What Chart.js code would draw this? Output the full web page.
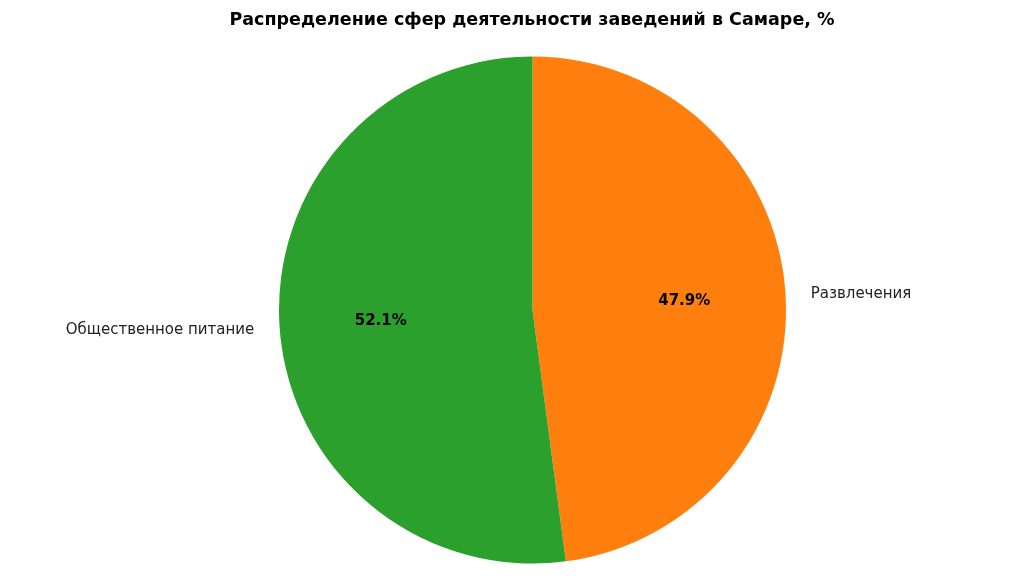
<!DOCTYPE html>
<html>
<head>
    <meta charset="utf-8">
    <title>Распределение сфер деятельности</title>
    <script src="https://cdn.jsdelivr.net/npm/chart.js@4"></script>
    <style>
        html, body { margin: 0; padding: 0; background: #fff; }
        canvas { display: block; }
    </style>
</head>
<body>
    <canvas id="pieChart" width="1024" height="587"></canvas>

    <script>
        // data
        const categories = ['Развлечения', 'Общественное питание'];
        const shares = [47.9, 52.1];
        const colors = ['#ff7f0e', '#2ca02c'];
        const chartTitle = 'Распределение сфер деятельности заведений в Самаре, %';

        const fontFamily = '"DejaVu Sans", sans-serif';

        // slice names outside, percentages inside (like matplotlib autopct)
        const sliceLabels = {
            id: 'sliceLabels',
            afterDatasetsDraw(chart) {
                const ctx = chart.ctx;
                const meta = chart.getDatasetMeta(0);
                ctx.save();
                meta.data.forEach((arc, i) => {
                    const p = arc.getProps(['x', 'y', 'startAngle', 'endAngle', 'outerRadius'], true);
                    const mid = (p.startAngle + p.endAngle) / 2;
                    const cx = Math.cos(mid), cy = Math.sin(mid);

                    ctx.fillStyle = '#000';
                    ctx.font = 'bold 15px ' + fontFamily;
                    ctx.textAlign = 'center';
                    ctx.textBaseline = 'middle';
                    ctx.fillText(shares[i].toFixed(1) + '%', p.x + cx * p.outerRadius * 0.6, p.y + cy * p.outerRadius * 0.6 + 1);

                    ctx.fillStyle = '#222';
                    ctx.font = '15px ' + fontFamily;
                    ctx.textAlign = cx >= 0 ? 'left' : 'right';
                    ctx.fillText(categories[i], p.x + cx * p.outerRadius * 1.1, p.y + cy * p.outerRadius * 1.1 + 2);
                });

                ctx.fillStyle = '#000';
                ctx.font = 'bold 17.5px ' + fontFamily;
                ctx.textAlign = 'center';
                ctx.textBaseline = 'middle';
                ctx.fillText(chartTitle, 532, 20);
                ctx.restore();
            }
        };

        new Chart(document.getElementById('pieChart').getContext('2d'), {
            type: 'pie',
            data: {
                labels: categories,
                datasets: [{
                    data: shares,
                    backgroundColor: colors,
                    borderWidth: 0
                }]
            },
            options: {
                responsive: false,
                animation: false,
                layout: {
                    padding: { top: 56.5, bottom: 23.5, left: 279, right: 238 }
                },
                plugins: {
                    legend: { display: false },
                    title: { display: false },
                    tooltip: { enabled: false }
                }
            },
            plugins: [sliceLabels]
        });
    </script>
</body>
</html>
